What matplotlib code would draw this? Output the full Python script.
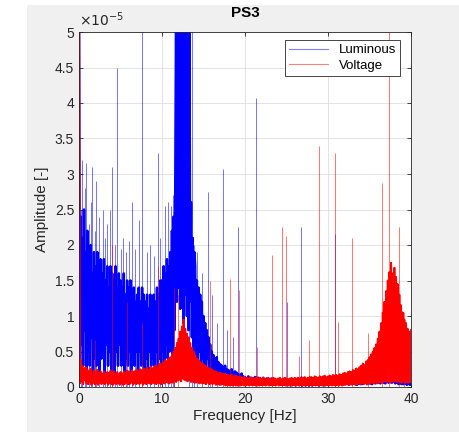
import numpy as np
import matplotlib
matplotlib.use('Agg')
import matplotlib.pyplot as plt
from matplotlib.patches import Rectangle
from matplotlib.ticker import FuncFormatter

plt.rcParams['font.family'] = ['Liberation Sans', 'DejaVu Sans']
plt.rcParams['path.simplify'] = False

# Spectrum amplitudes in units of 1e-5, one row per Hz (0.1 Hz bins)
luminous = [
    6.0, 0.4, 2.4, 0.6, 2.1, 0.3, 2.5, 0.8, 1.9, 0.2,
    2.2, 0.5, 1.8, 0.3, 2.0, 0.7, 1.6, 0.2, 1.9, 0.4,
    1.7, 0.3, 1.9, 0.6, 1.5, 0.2, 1.8, 0.4, 1.6, 0.5,
    1.8, 0.2, 1.5, 0.6, 1.7, 0.3, 1.4, 0.5, 1.7, 0.2,
    1.6, 0.4, 1.5, 0.2, 1.7, 0.5, 1.4, 0.3, 1.6, 0.6,
    1.5, 0.3, 1.4, 0.5, 1.6, 0.2, 1.3, 0.4, 1.5, 0.3,
    1.4, 0.5, 1.5, 0.2, 1.3, 0.4, 1.4, 0.3, 1.2, 0.5,
    1.3, 0.2, 1.4, 0.5, 1.2, 0.3, 1.4, 0.4, 1.3, 0.2,
    1.2, 0.4, 1.3, 0.2, 1.1, 0.5, 1.3, 0.3, 1.2, 0.4,
    1.3, 0.3, 1.2, 0.5, 1.4, 0.2, 1.3, 0.4, 1.5, 0.3,
    1.5, 0.5, 1.7, 0.3, 1.6, 0.6, 1.8, 0.4, 1.7, 0.5,
    1.9, 0.6, 2.2, 0.4, 2.4, 0.8, 2.9, 5.4, 1.2, 6.3,
    1.4, 7.5, 1.1, 6.8, 1.6, 8.0, 0.9, 7.2, 1.3, 6.6,
    1.0, 6.1, 0.8, 5.5, 1.2, 2.6, 0.7, 2.1, 0.5, 1.9,
    1.7, 0.4, 1.5, 0.3, 1.4, 0.5, 1.3, 0.2, 1.2, 0.4,
    1.0, 0.3, 0.9, 0.2, 0.8, 0.4, 0.7, 0.2, 0.6, 0.3,
    0.5, 0.1, 0.45, 0.2, 0.4, 0.1, 0.42, 0.15, 0.35, 0.1,
    0.32, 0.08, 0.3, 0.12, 0.28, 0.06, 0.3, 0.1, 0.25, 0.08,
    0.24, 0.07, 0.22, 0.1, 0.25, 0.05, 0.2, 0.09, 0.22, 0.06,
    0.2, 0.05, 0.18, 0.08, 0.17, 0.04, 0.19, 0.07, 0.15, 0.05,
    0.14, 0.04, 0.12, 0.06, 0.15, 0.03, 0.11, 0.05, 0.13, 0.04,
    0.12, 0.05, 0.14, 0.03, 0.11, 0.06, 0.13, 0.04, 0.12, 0.03,
    0.11, 0.04, 0.13, 0.05, 0.1, 0.03, 0.12, 0.06, 0.11, 0.04,
    0.1, 0.03, 0.12, 0.05, 0.09, 0.04, 0.11, 0.03, 0.1, 0.05,
    0.09, 0.04, 0.11, 0.03, 0.1, 0.05, 0.08, 0.03, 0.1, 0.04,
    0.08, 0.03, 0.1, 0.04, 0.09, 0.02, 0.08, 0.04, 0.09, 0.03,
    0.09, 0.02, 0.08, 0.04, 0.1, 0.03, 0.07, 0.03, 0.09, 0.02,
    0.08, 0.03, 0.09, 0.02, 0.07, 0.04, 0.08, 0.02, 0.09, 0.03,
    0.09, 0.02, 0.1, 0.03, 0.08, 0.04, 0.09, 0.03, 0.1, 0.02,
    0.1, 0.03, 0.09, 0.04, 0.11, 0.02, 0.1, 0.03, 0.09, 0.04,
    0.11, 0.03, 0.1, 0.04, 0.12, 0.03, 0.1, 0.05, 0.11, 0.03,
    0.12, 0.04, 0.1, 0.03, 0.13, 0.05, 0.11, 0.03, 0.12, 0.04,
    0.13, 0.04, 0.11, 0.05, 0.14, 0.03, 0.12, 0.04, 0.13, 0.05,
    0.14, 0.05, 0.12, 0.04, 0.15, 0.03, 0.13, 0.05, 0.14, 0.04,
    0.15, 0.04, 0.17, 0.05, 0.14, 0.06, 0.16, 0.04, 0.18, 0.05,
    0.17, 0.05, 0.2, 0.04, 0.18, 0.06, 0.22, 0.05, 0.19, 0.06,
    0.22, 0.06, 0.25, 0.05, 0.28, 0.07, 0.24, 0.06, 0.3, 0.05,
    0.32, 0.07, 0.38, 0.06, 0.45, 0.08, 0.58, 0.06, 0.42, 0.07,
    0.35, 0.05, 0.3, 0.06, 0.28, 0.04, 0.25, 0.05, 0.22, 0.04,
    0.2, 0.04, 0.18, 0.05, 0.17, 0.03, 0.16, 0.04, 0.15, 0.03,
    0.12,
]

voltage = [
    6.0, 0.05, 0.38, 0.08, 0.3, 0.04, 0.26, 0.1, 0.28, 0.05,
    0.25, 0.04, 0.22, 0.07, 0.26, 0.03, 0.2, 0.06, 0.23, 0.04,
    0.21, 0.05, 0.24, 0.03, 0.2, 0.06, 0.22, 0.04, 0.19, 0.05,
    0.22, 0.04, 0.18, 0.06, 0.21, 0.03, 0.2, 0.05, 0.23, 0.04,
    0.2, 0.03, 0.22, 0.05, 0.19, 0.04, 0.21, 0.06, 0.18, 0.03,
    0.21, 0.05, 0.19, 0.03, 0.22, 0.04, 0.2, 0.06, 0.23, 0.04,
    0.22, 0.04, 0.2, 0.06, 0.24, 0.03, 0.21, 0.05, 0.23, 0.04,
    0.24, 0.05, 0.22, 0.04, 0.25, 0.06, 0.23, 0.03, 0.26, 0.05,
    0.25, 0.04, 0.27, 0.06, 0.24, 0.05, 0.28, 0.04, 0.26, 0.06,
    0.28, 0.05, 0.3, 0.04, 0.27, 0.06, 0.31, 0.05, 0.33, 0.04,
    0.32, 0.06, 0.35, 0.05, 0.38, 0.07, 0.36, 0.06, 0.4, 0.05,
    0.42, 0.07, 0.46, 0.06, 0.5, 0.08, 0.55, 0.07, 0.62, 0.09,
    0.68, 0.1, 0.78, 0.08, 0.85, 0.12, 0.95, 0.1, 0.82, 0.09,
    0.75, 0.08, 0.7, 0.1, 0.62, 0.07, 0.55, 0.08, 0.5, 0.06,
    0.45, 0.06, 0.4, 0.07, 0.38, 0.05, 0.35, 0.06, 0.33, 0.05,
    0.32, 0.05, 0.3, 0.04, 0.28, 0.06, 0.27, 0.04, 0.26, 0.05,
    0.25, 0.04, 0.23, 0.05, 0.22, 0.03, 0.21, 0.04, 0.2, 0.03,
    0.2, 0.03, 0.19, 0.04, 0.18, 0.03, 0.19, 0.02, 0.17, 0.03,
    0.17, 0.02, 0.16, 0.03, 0.17, 0.02, 0.15, 0.03, 0.16, 0.02,
    0.15, 0.02, 0.14, 0.03, 0.15, 0.02, 0.13, 0.03, 0.14, 0.02,
    0.14, 0.02, 0.13, 0.03, 0.12, 0.02, 0.14, 0.03, 0.13, 0.02,
    0.13, 0.03, 0.12, 0.02, 0.14, 0.03, 0.12, 0.02, 0.13, 0.03,
    0.12, 0.02, 0.13, 0.03, 0.12, 0.02, 0.11, 0.03, 0.13, 0.02,
    0.12, 0.03, 0.11, 0.02, 0.13, 0.03, 0.12, 0.02, 0.11, 0.03,
    0.12, 0.02, 0.13, 0.03, 0.11, 0.02, 0.12, 0.03, 0.13, 0.02,
    0.12, 0.03, 0.11, 0.02, 0.12, 0.03, 0.13, 0.02, 0.12, 0.03,
    0.13, 0.02, 0.12, 0.03, 0.13, 0.02, 0.12, 0.03, 0.14, 0.02,
    0.13, 0.03, 0.14, 0.02, 0.12, 0.03, 0.13, 0.02, 0.14, 0.03,
    0.14, 0.02, 0.13, 0.03, 0.15, 0.02, 0.14, 0.03, 0.13, 0.02,
    0.15, 0.03, 0.14, 0.02, 0.15, 0.03, 0.16, 0.02, 0.14, 0.03,
    0.15, 0.02, 0.16, 0.03, 0.15, 0.02, 0.17, 0.03, 0.16, 0.02,
    0.17, 0.03, 0.16, 0.02, 0.18, 0.03, 0.17, 0.02, 0.19, 0.03,
    0.2, 0.03, 0.19, 0.04, 0.21, 0.03, 0.22, 0.04, 0.21, 0.03,
    0.24, 0.04, 0.23, 0.03, 0.26, 0.04, 0.25, 0.05, 0.28, 0.04,
    0.3, 0.05, 0.33, 0.04, 0.31, 0.05, 0.36, 0.04, 0.38, 0.05,
    0.42, 0.05, 0.46, 0.06, 0.5, 0.05, 0.55, 0.06, 0.6, 0.05,
    0.68, 0.06, 0.78, 0.07, 0.9, 0.06, 1.05, 0.07, 1.2, 0.08,
    1.35, 0.07, 1.5, 0.08, 1.62, 0.06, 1.75, 0.08, 1.6, 0.07,
    1.68, 0.08, 1.55, 0.07, 1.45, 0.08, 1.3, 0.07, 1.15, 0.06,
    1.05, 0.07, 0.95, 0.06, 0.9, 0.07, 0.82, 0.06, 0.78, 0.07,
    0.8,
]

# Isolated narrow peaks: frequency [Hz], amplitude [1e-5]
lum_spike_f = [0.2, 0.4, 0.7, 0.9, 1.2, 1.4, 1.6, 1.9, 2.1, 2.4, 2.9, 3.1, 3.4, 3.7,
               4.0, 4.3, 4.6, 5.0, 5.3, 5.7, 6.0, 6.4, 6.8, 7.2, 7.6, 8.2, 8.6, 9.0,
               9.5, 9.8, 10.4, 10.7, 11.1, 11.3, 11.5, 13.2, 13.6, 13.8, 14.2, 14.8,
               15.6, 16.0, 16.6, 17.3, 17.8, 18.6, 19.2, 21.3, 25.1, 26.8, 30.8]
lum_spike_a = [2.5, 3.2, 2.8, 3.15, 2.3, 2.6, 3.1, 2.2, 2.9, 2.4, 2.5, 2.1, 2.3, 2.5,
               3.1, 2.0, 4.5, 1.95, 2.1, 1.9, 2.05, 2.6, 1.95, 2.35, 5.5, 1.9, 2.0, 1.85,
               3.3, 2.1, 2.55, 2.6, 2.55, 2.7, 2.9, 4.5, 5.5, 2.0, 1.9, 1.6,
               2.75, 1.3, 0.9, 3.07, 0.8, 0.7, 2.25, 4.07, 1.2, 2.25, 2.15]

volt_spike_f = [1.9, 4.0, 5.8, 7.6, 9.5, 11.5, 11.9, 15.8, 18.2, 19.3, 21.4, 23.2,
                24.5, 24.9, 26.5, 27.7, 28.9, 30.9, 31.2, 32.9, 34.8, 36.5, 37.3,
                38.5, 39.2]
volt_spike_a = [0.66, 2.0, 1.2, 0.9, 1.7, 1.4, 1.3, 1.5, 1.52, 1.37, 0.57, 1.86,
                2.25, 2.13, 0.43, 0.66, 3.4, 3.3, 0.92, 2.1, 0.76, 2.87, 5.5,
                2.25, 1.06]

scale = 1e-5
freq = np.arange(len(luminous)) * 0.1

fig = plt.figure(figsize=(4.59, 4.32), dpi=100, facecolor='white')
fig.patches.append(Rectangle((27 / 459, 0), 1 - 27 / 459, 1 - 5 / 432,
                             transform=fig.transFigure, facecolor='#f0f0f0',
                             edgecolor='none', zorder=-1))
ax = fig.add_axes([79 / 459, 45 / 432, 332 / 459, 355 / 432])

ax.vlines(lum_spike_f, 0, np.array(lum_spike_a) * scale, color='#0000ff', lw=0.7, alpha=0.55)
ax.plot(freq, np.array(luminous) * scale, color='#0000ff', lw=1.8, label='Luminous')
ax.vlines(volt_spike_f, 0, np.array(volt_spike_a) * scale, color='#ff0000', lw=0.7, alpha=0.55)
ax.plot(freq, np.array(voltage) * scale, color='#ff0000', lw=1.4, label='Voltage')

ax.set_xlim(0, 40)
ax.set_ylim(0, 5e-5)
ax.set_xticks([0, 10, 20, 30, 40])
ax.set_yticks(np.arange(0, 5.01, 0.5) * scale)
ax.yaxis.set_major_formatter(FuncFormatter(lambda v, p: '%g' % round(v / scale, 2)))
ax.grid(True, color='#dedede', lw=0.6)
ax.set_axisbelow(True)
ax.tick_params(direction='in', top=True, right=True, length=3, width=0.6,
               labelsize=10, colors='#262626')
for s in ax.spines.values():
    s.set_color('#262626')
    s.set_linewidth(0.6)

ax.text(0, 1.008, r'$\times10^{-5}$', transform=ax.transAxes, fontsize=10,
        ha='left', va='bottom', color='#262626')
ax.set_title('PS3', fontsize=11, fontweight='bold', pad=11, color='black')
ax.set_xlabel('Frequency [Hz]', fontsize=11, color='#262626', labelpad=2)
ax.set_ylabel('Amplitude [-]', fontsize=11, color='#262626', labelpad=4)

leg = ax.legend(loc='upper right', fontsize=9.5, fancybox=False, framealpha=1,
                edgecolor='#262626', borderpad=0.3, handlelength=3.0,
                labelspacing=0.25, borderaxespad=0,
                bbox_to_anchor=(0.967, 0.977))
leg.get_frame().set_linewidth(0.6)
for h in leg.get_lines():
    h.set_alpha(0.5)
    h.set_linewidth(0.8)

plt.savefig('out.png', dpi=100, facecolor=fig.get_facecolor())
plt.close()
